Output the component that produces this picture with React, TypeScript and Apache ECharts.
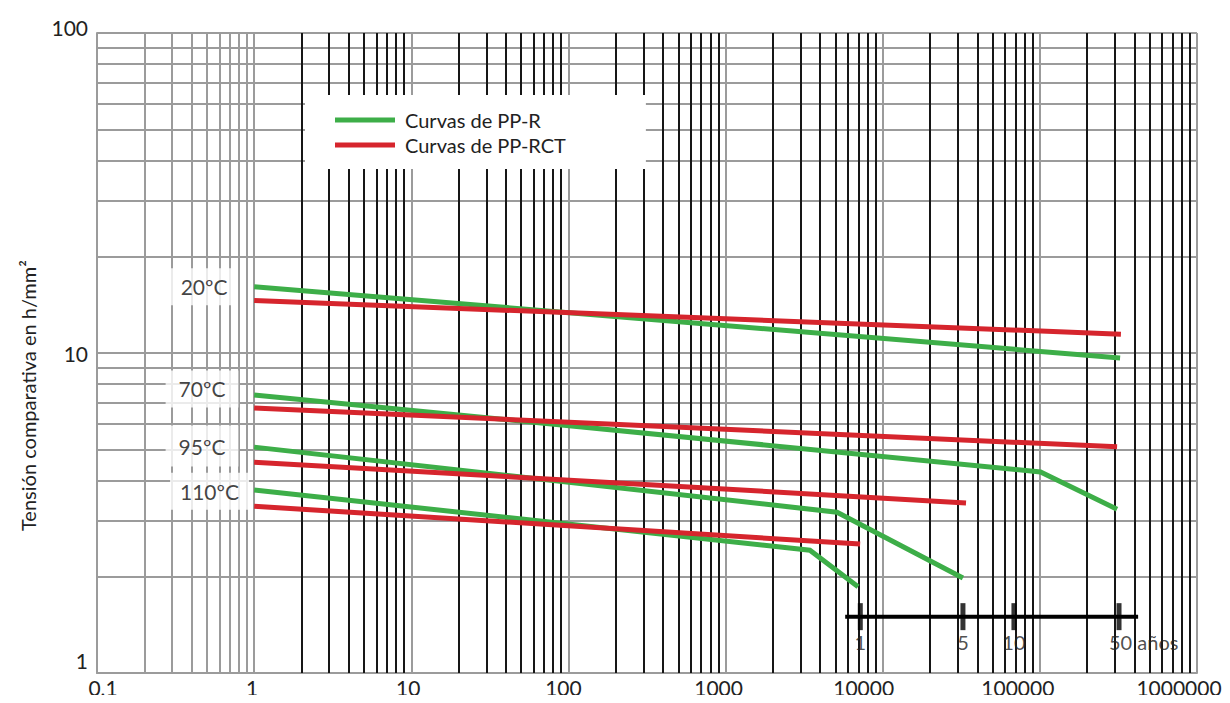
import { useEffect, useRef } from 'react';
import * as echarts from 'echarts';

// ---- data ----
const xTickLabels = ['0,1', '1', '10', '100', '1000', '10000', '100000', '1000000'];
const yTickLabels = ['1', '10', '100'];

const seriesNames = ['Curvas de PP-R', 'Curvas de PP-RCT'];
const temperatures = ['20ºC', '70ºC', '95ºC', '110ºC'];

// hours, stress (PP-R, green)
const pprCurve20 = [[1, 16.1], [324000, 9.65]];
const pprCurve70 = [[1, 7.39], [101000, 4.25], [310000, 3.25]];
const pprCurve95 = [[1, 5.08], [5120, 3.18], [32400, 1.98]];
const pprCurve110 = [[1, 3.73], [3440, 2.42], [6970, 1.86]];
// hours, stress (PP-RCT, red)
const rctCurve20 = [[1, 14.6], [328000, 11.45]];
const rctCurve70 = [[1, 6.73], [310000, 5.09]];
const rctCurve95 = [[1, 4.56], [33900, 3.4]];
const rctCurve110 = [[1, 3.32], [7180, 2.53]];

// time scale (years) drawn in hours
const timeAxisHours = [5770, 422000];
const timeAxisLevel = 1.5;
const timeMarkHours = [7200, 32400, 68400, 319000];
const timeMarkLabels = ['1', '5', '10', '50 años'];

// annotation anchors for the temperature labels
const tempLabelAnchors = [[0.48, 16.1], [0.466, 7.72], [0.466, 5.12], [0.52, 3.7]];

const FONT = 'Lato, "Open Sans", sans-serif';
const GREEN = '#3dae48';
const RED = '#d6252d';
const GRID_GRAY = '#9b9b9b';
const GRID_BLACK = '#161616';

// label nudges (styling only): horizontal shift in px for x labels, upward shift for y labels
const xLabelShift = [6, -2, -3, -5, -7, -19, -22, -18];
const yLabelLift = [13, 0, 6];

export default function App() {
  const ref = useRef<HTMLDivElement>(null);

  useEffect(() => {
    if (!ref.current) return;
    const chart = echarts.init(ref.current, null, { renderer: 'svg' });

    const grayVert: any[] = [];
    for (let k = 2; k <= 9; k++) grayVert.push({ xAxis: k / 10 });
    const grayHoriz: any[] = [];
    for (let p = 0; p < 2; p++) for (let k = 2; k <= 9; k++) grayHoriz.push({ yAxis: k * Math.pow(10, p) });
    const blackVert: any[] = [];
    for (let p = 0; p <= 5; p++) for (let k = 2; k <= 9; k++) blackVert.push({ xAxis: k * Math.pow(10, p) });

    const curve = (name: string, data: number[][], color: string) => ({
      type: 'line',
      name,
      data,
      showSymbol: false,
      symbol: 'none',
      z: 6,
      lineStyle: { color, width: 5, cap: 'butt', join: 'miter' },
      itemStyle: { color },
    });

    const labelPads = [[8, 10], [8, 13], [10, 13], [8, 10]];

    const xRich: any = {};
    xLabelShift.forEach((s, i) => {
      xRich['x' + i] = {
        fontSize: 21,
        lineHeight: 22,
        color: '#222',
        fontFamily: FONT,
        padding: s >= 0 ? [0, 0, 0, 2 * s] : [0, -2 * s, 0, 0],
      };
    });
    const yRich: any = {};
    yLabelLift.forEach((s, i) => {
      yRich['y' + i] = {
        fontSize: 21,
        color: '#222',
        fontFamily: FONT,
        padding: [0, 0, 2 * s, 0],
      };
    });

    const option: any = {
      animation: false,
      backgroundColor: '#fff',
      grid: { left: 97, right: 33, top: 33, bottom: 30, containLabel: false, outerBoundsMode: 'none' },
      xAxis: {
        type: 'log',
        logBase: 10,
        min: 0.1,
        max: 1000000,
        axisLine: { show: true, lineStyle: { color: GRID_GRAY, width: 2 } },
        axisTick: { show: false },
        splitLine: { show: true, lineStyle: { color: GRID_GRAY, width: 2 } },
        axisLabel: {
          margin: 3,
          rich: xRich,
          formatter: (v: number) => {
            const i = Math.round(Math.log10(v)) + 1;
            return xTickLabels[i] != null ? `{x${i}|${xTickLabels[i]}}` : '';
          },
        },
      },
      yAxis: {
        type: 'log',
        logBase: 10,
        min: 1,
        max: 100,
        axisLine: { show: true, lineStyle: { color: GRID_GRAY, width: 2 } },
        axisTick: { show: false },
        splitLine: { show: true, lineStyle: { color: GRID_GRAY, width: 2 } },
        axisLabel: {
          margin: 9,
          rich: yRich,
          formatter: (v: number) => {
            const i = Math.round(Math.log10(v));
            return yTickLabels[i] != null ? `{y${i}|${yTickLabels[i]}}` : '';
          },
        },
      },
      legend: {
        data: seriesNames,
        orient: 'vertical',
        left: 305,
        top: 95,
        backgroundColor: '#fff',
        padding: [15, 80, 14, 30],
        itemWidth: 60,
        itemHeight: 5,
        itemGap: 5,
        icon: 'rect',
        selectedMode: false,
        textStyle: { fontSize: 20, color: '#222', fontFamily: FONT, padding: [0, 0, 0, 5] },
      },
      graphic: [
        {
          type: 'text',
          x: 28,
          y: 531,
          rotation: Math.PI / 2,
          style: {
            text: 'Tensión comparativa en h/mm²',
            fontSize: 20,
            fontFamily: FONT,
            fill: '#222',
            align: 'left',
            verticalAlign: 'middle',
          },
        },
      ],
      series: [
        {
          type: 'line',
          data: [],
          silent: true,
          z: 1,
          markLine: {
            silent: true,
            z: 1,
            symbol: ['none', 'none'],
            label: { show: false },
            lineStyle: { type: 'solid', color: GRID_GRAY, width: 2 },
            data: [...grayVert, ...grayHoriz],
          },
        },
        {
          type: 'line',
          data: [],
          silent: true,
          z: 2,
          markLine: {
            silent: true,
            z: 2,
            symbol: ['none', 'none'],
            label: { show: false },
            lineStyle: { type: 'solid', color: GRID_BLACK, width: 2 },
            data: blackVert,
          },
        },
        {
          type: 'scatter',
          silent: true,
          z: 4,
          symbolSize: 0,
          data: tempLabelAnchors.map((p, i) => ({
            value: p,
            label: {
              show: true,
              position: 'inside',
              formatter: temperatures[i],
              backgroundColor: '#fff',
              padding: labelPads[i],
              color: '#111',
              fontSize: 21,
              fontFamily: FONT,
            },
          })),
        },
        curve(seriesNames[0], pprCurve20, GREEN),
        curve(seriesNames[1], rctCurve20, RED),
        curve(seriesNames[0], pprCurve70, GREEN),
        curve(seriesNames[1], rctCurve70, RED),
        curve(seriesNames[0], pprCurve95, GREEN),
        curve(seriesNames[1], rctCurve95, RED),
        curve(seriesNames[0], pprCurve110, GREEN),
        curve(seriesNames[1], rctCurve110, RED),
        {
          type: 'line',
          silent: true,
          z: 7,
          showSymbol: false,
          symbol: 'none',
          data: timeAxisHours.map((h) => [h, timeAxisLevel]),
          lineStyle: { color: '#000', width: 4 },
        },
        {
          type: 'scatter',
          silent: true,
          z: 8,
          symbol: 'rect',
          symbolSize: [5, 27],
          itemStyle: { color: '#000' },
          data: timeMarkHours.map((h, i) => ({
            value: [h, timeAxisLevel],
            label: {
              show: true,
              position: 'bottom',
              distance: 2,
              formatter: timeMarkLabels[i],
              color: '#222',
              fontSize: 20,
              fontFamily: FONT,
              ...(i === timeMarkHours.length - 1 ? { align: 'left', offset: [-10, 0] } : {}),
            },
          })),
        },
      ],
    };

    chart.setOption(option);
    return () => chart.dispose();
  }, []);

  return <div ref={ref} style={{ width: 1230, height: 703, margin: -8 }} />;
}
